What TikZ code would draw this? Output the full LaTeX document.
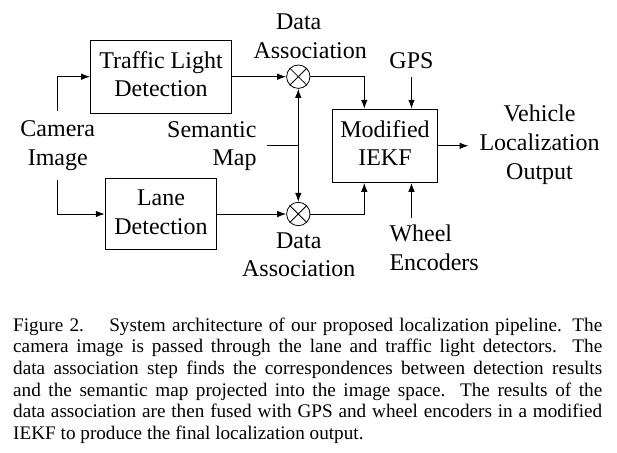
\documentclass[tikz,border=0pt]{standalone}
\usepackage{fontspec}
\setmainfont{Liberation Serif}
\usetikzlibrary{arrows.meta,calc}
\begin{document}
\begin{tikzpicture}[x=1pt,y=-1pt,line width=1pt,
  font=\fontsize{24}{28.8}\selectfont,
  box/.style={draw,line width=1pt,inner sep=0pt,align=center},
  lbl/.style={align=center,inner sep=0pt},
  arr/.style={-{Latex[length=9pt,width=6.5pt]}},
  assoc/.style={circle,draw,line width=0.8pt,minimum size=23.4pt,inner sep=0pt}]
\useasboundingbox (0,0) rectangle (617,452);
% blocks
\node[box,minimum width=140.6pt,minimum height=72.6pt] (tl) at (161,76.7) {\strut Traffic Light\\\strut Detection};
\node[box,minimum width=111.4pt,minimum height=71.7pt] (lane) at (161,214) {\strut Lane\\\strut Detection};
\node[box,minimum width=105.4pt,minimum height=73pt] (iekf) at (385,145.8) {\strut Modified\\\strut IEKF};
% association circles
\node[assoc] (c1) at (298.3,76.7) {};
\node[assoc] (c2) at (298.3,214) {};
\draw[line width=0.8pt] (c1.north west) -- (c1.south east) (c1.north east) -- (c1.south west);
\draw[line width=0.8pt] (c2.north west) -- (c2.south east) (c2.north east) -- (c2.south west);
% labels
\node[lbl,inner sep=5pt] (cam) at (57.8,145.6) {\strut Camera\\\strut Image};
\node[lbl,align=right,inner ysep=0pt,inner xsep=9.7pt,anchor=east] (sem) at (266.7,145.7) {\strut Semantic\\\strut Map};
\node[lbl] (da1) at (298.7,38) {\strut Data\\\hspace*{23pt}\strut Association};
\node[lbl] (da2) at (298.8,256.7) {\strut Data\\\strut Association};
\node[lbl,anchor=base,text depth=0pt,inner ysep=8pt] (gps) at (411.5,68) {GPS};
\node[lbl,align=left,inner sep=3pt,anchor=west] (whl) at (386,250.1) {\strut Wheel\\\strut Encoders};
\node[lbl,inner xsep=10.5pt] (out) at (539.5,144.7) {\strut Vehicle\\\strut Localization\\\strut Output};
\coordinate (j) at (298.3,145.7);
% connectors
\draw[arr] (cam.north) |- (tl.west);
\draw[arr] (cam.south) |- (lane.west);
\draw[arr] (tl.east) -- (c1.west);
\draw[arr] (lane.east) -- (c2.west);
\draw (sem.east) -- (j);
\draw[arr] (j) -- (c1.south);
\draw[arr] (j) -- (c2.north);
\draw[arr] (c1.east) -| ([xshift=-20.7pt]iekf.north);
\draw[arr] (c2.east) -| ([xshift=-20.7pt]iekf.south);
\draw[arr] (gps.south) -- (gps.south |- iekf.north);
\draw[arr] (whl.north -| gps.south) -- (gps.south |- iekf.south);
\draw[arr] (iekf.east) -- (iekf.east -| out.west);
% caption
\node[anchor=north west,inner sep=0pt,text width=589pt,align=justify,
  font=\fontsize{19.2}{21.6}\selectfont] (cap) at (12.7,315.6)
  {\strut Figure 2.\quad\ System architecture of our proposed localization pipeline. The\linebreak
  camera image is passed through the lane and traffic light detectors. The\linebreak
  data association step finds the correspondences between detection results\linebreak
  and the semantic map projected into the image space. The results of the\linebreak
  data association are then fused with GPS and wheel encoders in a modified\linebreak
  IEKF to produce the final localization output.};
\end{tikzpicture}
\end{document}
